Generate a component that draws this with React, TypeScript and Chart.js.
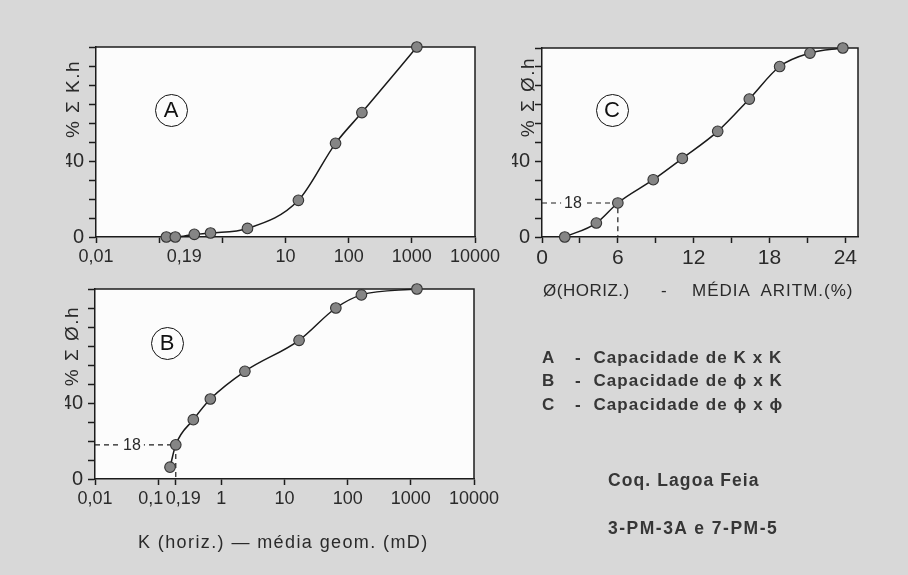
import React, { useEffect, useRef } from "react";
import { Chart, registerables } from "chart.js";

Chart.register(...registerables);

// ---------- data ----------
// Panel A: capacity K x K
const aPermeability = [0.13, 0.18, 0.36, 0.65, 2.5, 16, 62, 162, 1200];
const aCumKh = [0, 0, 1.4, 2.1, 4.5, 19.3, 49.3, 65.5, 100];
// Panel B: capacity phi x K
const bPermeability = [0.154, 0.19, 0.36, 0.67, 2.36, 17, 65, 165, 1250];
const bCumPhiH = [6.2, 18, 31.2, 42.1, 56.7, 73, 90, 96.9, 100];
// Panel C: capacity phi x phi
const cPorosity = [1.8, 4.3, 6, 8.8, 11.1, 13.9, 16.4, 18.8, 21.2, 23.8];
const cCumPhiH = [0, 7.4, 18, 30.3, 41.6, 55.9, 73, 90.2, 97.3, 100];

// cut-off markers
const cutoffPct = 18;
const cCutoffPorosity = 6;
const bCutoffPermeability = 0.19;

// ticks
const logTickValues = [0.01, 0.1, 0.19, 1, 10, 100, 1000, 10000];
const aLogTickMarks = [true, true, false, true, true, true, true, true];
const bLogTickMarks = [true, true, true, true, true, true, true, true];
const aLogTickLabels = ["0,01", "", "   0,19", "", "10", "100", "1000", "10000"];
const bLogTickLabels = ["0,01", "0,1   ", "   0,19", "1", "10", "100", "1000", "10000"];
const cTickValues = [0, 3, 6, 9, 12, 15, 18, 21, 24];
const cTickMarks = [true, true, true, true, true, true, true, true, true];
const cTickLabels = ["0", "", "6", "", "12", "", "18", "", "24"];
const yTickValues = [0, 10, 20, 30, 40, 50, 60, 70, 80, 90, 100];
const yTickLabels = ["0", "", "", "", "40", "", "", "", "", "", ""];

// ---------- styling ----------
const W = 908;
const H = 575;
const FRAME = "#1c1c1c";
const TEXT = "#2a2a2a";
const FONT = "'Liberation Sans', Arial, sans-serif";
const PLOT_BG = "#fcfcfc";
const Y_W = 30;
const X_H = 30;

type Area = { left: number; top: number; right: number; bottom: number };
type PanelCfg = {
  xType: "logarithmic" | "linear";
  xMin: number;
  xMax: number;
  xTicks: number[];
  xTickMarks: boolean[];
  xLabels: string[];
  xFontSize: number;
  xs: number[];
  ys: number[];
  area: Area;
  cutoff?: { x: number; y: number; labelOffset: number };
};

function makePlugin(cfg: PanelCfg) {
  return {
    id: "panelDecor",
    beforeDraw(chart: any) {
      const { ctx, chartArea: a } = chart;
      ctx.save();
      ctx.fillStyle = PLOT_BG;
      ctx.fillRect(a.left, a.top, a.right - a.left, a.bottom - a.top);
      ctx.restore();
    },
    beforeDatasetsDraw(chart: any) {
      const { ctx, chartArea: a, scales } = chart;
      ctx.save();
      ctx.strokeStyle = FRAME;
      ctx.lineWidth = 1.5;
      ctx.beginPath();
      ctx.moveTo(a.left, a.top);
      ctx.lineTo(a.right, a.top);
      ctx.lineTo(a.right, a.bottom);
      ctx.stroke();
      if (cfg.cutoff) {
        const px = scales.x.getPixelForValue(cfg.cutoff.x);
        const py = scales.y.getPixelForValue(cfg.cutoff.y);
        ctx.setLineDash([5, 4]);
        ctx.lineWidth = 1.2;
        ctx.beginPath();
        ctx.moveTo(a.left, py);
        ctx.lineTo(px, py);
        ctx.lineTo(px, a.bottom);
        ctx.stroke();
        ctx.setLineDash([]);
        ctx.font = "16px " + FONT;
        const label = String(cfg.cutoff.y);
        const tw = ctx.measureText(label).width;
        const cx = a.left + cfg.cutoff.labelOffset;
        ctx.fillStyle = PLOT_BG;
        ctx.fillRect(cx - tw / 2 - 3, py - 8, tw + 6, 16);
        ctx.fillStyle = TEXT;
        ctx.textAlign = "center";
        ctx.textBaseline = "middle";
        ctx.fillText(label, cx, py + 1);
      }
      ctx.restore();
    },
  };
}

function Panel({ cfg }: { cfg: PanelCfg }) {
  const ref = useRef<HTMLCanvasElement>(null);
  useEffect(() => {
    const a = cfg.area;
    const chart = new Chart(ref.current as HTMLCanvasElement, {
      type: "line",
      data: {
        datasets: [
          {
            data: cfg.xs.map((x, i) => ({ x, y: cfg.ys[i] })),
            borderColor: "#1a1a1a",
            borderWidth: 1.5,
            pointRadius: 5.3,
            pointBackgroundColor: "#858585",
            pointBorderColor: "#333333",
            pointBorderWidth: 1.1,
            cubicInterpolationMode: "monotone",
            fill: false,
            clip: false as any,
          } as any,
        ],
      },
      options: {
        responsive: false,
        animation: false,
        events: [],
        layout: {
          padding: {
            left: a.left - Y_W,
            top: a.top,
            right: W - a.right,
            bottom: H - a.bottom - X_H,
          },
        },
        plugins: { legend: { display: false }, tooltip: { enabled: false } },
        scales: {
          x: {
            type: cfg.xType,
            min: cfg.xMin,
            max: cfg.xMax,
            afterBuildTicks: (s: any) => {
              s.ticks = cfg.xTicks.map((v) => ({ value: v }));
            },
            afterFit: (s: any) => {
              s.height = X_H;
            },
            border: { display: true, color: FRAME, width: 1.5 },
            grid: {
              drawOnChartArea: false,
              drawTicks: true,
              tickLength: 6,
              tickWidth: 1.5,
              tickColor: (c: any) => (cfg.xTickMarks[c.index] ? FRAME : "rgba(0,0,0,0)"),
            },
            ticks: {
              autoSkip: false,
              maxRotation: 0,
              minRotation: 0,
              padding: 3,
              color: TEXT,
              font: { family: FONT, size: cfg.xFontSize },
              callback: (_v: any, i: number) => cfg.xLabels[i],
            },
          } as any,
          y: {
            type: "linear",
            min: 0,
            max: 100,
            afterBuildTicks: (s: any) => {
              s.ticks = yTickValues.map((v) => ({ value: v }));
            },
            afterFit: (s: any) => {
              s.width = Y_W;
            },
            border: { display: true, color: FRAME, width: 1.5 },
            grid: {
              drawOnChartArea: false,
              drawTicks: true,
              tickLength: 7,
              tickWidth: 1.5,
              tickColor: FRAME,
            },
            ticks: {
              autoSkip: false,
              padding: 5,
              color: TEXT,
              font: { family: FONT, size: 20 },
              callback: (_v: any, i: number) => yTickLabels[i],
            },
          } as any,
        },
      },
      plugins: [makePlugin(cfg)],
    });
    return () => chart.destroy();
  }, []);
  return (
    <canvas
      ref={ref}
      width={W}
      height={H}
      style={{ position: "absolute", left: 0, top: 0 }}
    />
  );
}

const panelA: PanelCfg = {
  xType: "logarithmic",
  xMin: 0.01,
  xMax: 10000,
  xTicks: logTickValues,
  xTickMarks: aLogTickMarks,
  xLabels: aLogTickLabels,
  xFontSize: 18,
  xs: aPermeability,
  ys: aCumKh,
  area: { left: 96, top: 47, right: 475, bottom: 237 },
};

const panelB: PanelCfg = {
  xType: "logarithmic",
  xMin: 0.01,
  xMax: 10000,
  xTicks: logTickValues,
  xTickMarks: bLogTickMarks,
  xLabels: bLogTickLabels,
  xFontSize: 18,
  xs: bPermeability,
  ys: bCumPhiH,
  area: { left: 95, top: 289, right: 474, bottom: 479 },
  cutoff: { x: bCutoffPermeability, y: cutoffPct, labelOffset: 37 },
};

const panelC: PanelCfg = {
  xType: "linear",
  xMin: 0,
  xMax: 25,
  xTicks: cTickValues,
  xTickMarks: cTickMarks,
  xLabels: cTickLabels,
  xFontSize: 21,
  xs: cPorosity,
  ys: cCumPhiH,
  area: { left: 542, top: 48, right: 858, bottom: 237 },
  cutoff: { x: cCutoffPorosity, y: cutoffPct, labelOffset: 31 },
};

function Txt({
  x,
  y,
  size,
  children,
  spacing = 0,
  color = TEXT,
  bold = false,
}: {
  x: number;
  y: number;
  size: number;
  children: React.ReactNode;
  spacing?: number;
  color?: string;
  bold?: boolean;
}) {
  // y is the vertical centre of capital letters
  return (
    <div
      style={{
        position: "absolute",
        left: x,
        top: y - 0.49 * size,
        fontSize: size,
        lineHeight: 1,
        fontFamily: FONT,
        fontWeight: bold ? 700 : 400,
        color,
        whiteSpace: "pre",
        letterSpacing: spacing,
      }}
    >
      {children}
    </div>
  );
}

function VTitle({ cx, cy, text }: { cx: number; cy: number; text: string }) {
  return (
    <div
      style={{
        position: "absolute",
        left: cx,
        top: cy,
        transform: "translate(-50%, -50%) rotate(-90deg)",
        fontSize: 19,
        lineHeight: 1,
        fontFamily: FONT,
        color: TEXT,
        whiteSpace: "pre",
        letterSpacing: 1.5,
      }}
    >
      {text}
    </div>
  );
}

function Circled({ cx, cy, letter }: { cx: number; cy: number; letter: string }) {
  const d = 33;
  return (
    <div
      style={{
        position: "absolute",
        left: cx - d / 2,
        top: cy - d / 2,
        width: d,
        height: d,
        boxSizing: "border-box",
        border: "1.8px solid #111",
        borderRadius: "50%",
        display: "flex",
        alignItems: "center",
        justifyContent: "center",
        fontFamily: FONT,
        fontSize: 22,
        color: "#111",
        lineHeight: 1,
      }}
    >
      {letter}
    </div>
  );
}

const LEG = "#363636";

export default function App() {
  return (
    <div
      style={{
        position: "absolute",
        left: 0,
        top: 0,
        width: W,
        height: H,
        background: "#d8d8d8",
        overflow: "hidden",
      }}
    >
      <Panel cfg={panelA} />
      <Panel cfg={panelC} />
      <Panel cfg={panelB} />

      <VTitle cx={72} cy={99} text="% Σ K.h" />
      <VTitle cx={527} cy={97} text="% Σ Ø.h" />
      <VTitle cx={71} cy={346} text="% Σ Ø.h" />

      <Circled cx={171} cy={110} letter="A" />
      <Circled cx={612} cy={110} letter="C" />
      <Circled cx={167} cy={343} letter="B" />

      <Txt x={543} y={290.5} size={17} spacing={0.5}>Ø(HORIZ.)</Txt>
      <Txt x={661} y={290.5} size={17}>-</Txt>
      <Txt x={692} y={290.5} size={17} spacing={1}>MÉDIA  ARITM.(%)</Txt>

      <Txt x={138} y={541.7} size={18} spacing={1.4}>K (horiz.) — média geom. (mD)</Txt>

      <Txt x={542} y={357} size={17} bold color={LEG}>A</Txt>
      <Txt x={575} y={357} size={17} bold color={LEG} spacing={1.1}>-  Capacidade de K x K</Txt>
      <Txt x={542} y={380.5} size={17} bold color={LEG}>B</Txt>
      <Txt x={575} y={380.5} size={17} bold color={LEG} spacing={1.1}>-  Capacidade de ϕ x K</Txt>
      <Txt x={542} y={404} size={17} bold color={LEG}>C</Txt>
      <Txt x={575} y={404} size={17} bold color={LEG} spacing={1.1}>-  Capacidade de ϕ x ϕ</Txt>

      <Txt x={608} y={480.3} size={17.5} bold color={LEG} spacing={1.1}>Coq. Lagoa Feia</Txt>
      <Txt x={608} y={528.8} size={17.5} bold color={LEG} spacing={1.5}>3-PM-3A e 7-PM-5</Txt>
    </div>
  );
}
